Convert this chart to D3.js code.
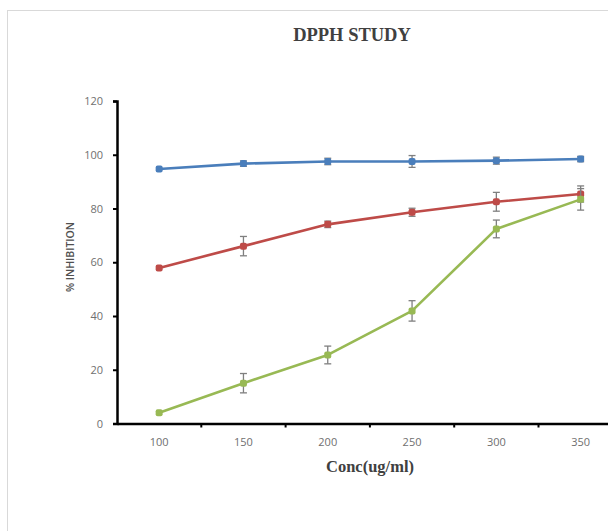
<!DOCTYPE html>
<html><head><meta charset="utf-8">
<script src="https://cdn.jsdelivr.net/npm/d3@7"></script>
<style>body{margin:0;background:#fff;}svg{display:block;}</style>
</head><body>
<svg id="c" width="608" height="531"></svg>
<script>
const categories = ["100","150","200","250","300","350"];
const yTicks = [0,20,40,60,80,100,120];
const seriesBlue = [94.7, 96.7, 97.5, 97.5, 97.8, 98.4];
const errBlue    = [0.8, 1.0, 1.2, 2.2, 1.3, 1.0];
const seriesRed  = [57.9, 66.0, 74.1, 78.6, 82.5, 85.4];
const errRed     = [0.8, 3.6, 1.2, 1.5, 3.5, 3.0];
const seriesGreen= [4.0, 15.0, 25.5, 41.9, 72.4, 83.4];
const errGreen   = [0.6, 3.6, 3.3, 3.8, 3.3, 4.0];
const colors = ["#4a7ebb","#be4b48","#98b954"];

const svg = d3.select("#c");
svg.append("rect").attr("x",7.5).attr("y",10.5).attr("width",640).attr("height",560)
  .attr("fill","#fff").attr("stroke","#d9d9d9").attr("stroke-width",1);

const x0 = 117, bw = 84.3;
const x = d3.scaleBand().domain(categories).range([x0, x0 + bw*categories.length]).padding(0);
const y = d3.scaleLinear().domain([0,120]).range([423.5, 101]);

svg.append("text").attr("x",352).attr("y",41).attr("text-anchor","middle")
  .attr("font-family","'Liberation Serif','Times New Roman',serif").attr("font-weight","bold")
  .attr("font-size",18.5).attr("fill","#404040").text("DPPH STUDY");

const yAxis = d3.axisLeft(y).tickValues(yTicks).tickSize(4).tickPadding(10);
const gy = svg.append("g").attr("transform",`translate(${x0},0)`).call(yAxis);
gy.select(".domain").attr("stroke","#000").attr("stroke-width",2.5);
gy.selectAll(".tick line").attr("stroke","#000").attr("stroke-width",2);
gy.selectAll(".tick text").attr("font-family","'Open Sans','DejaVu Sans',sans-serif")
  .attr("font-size",11).attr("fill","#6f6f6f");

const xAxis = d3.axisBottom(x).tickSize(0).tickPadding(15);
const gx = svg.append("g").attr("transform",`translate(0,${y(0)})`).call(xAxis);
gx.select(".domain").attr("stroke","#000").attr("stroke-width",2.5);
gx.selectAll(".tick text").attr("font-family","'Open Sans','DejaVu Sans',sans-serif")
  .attr("font-size",11).attr("fill","#6f6f6f");
gx.selectAll(".btick").data(categories.slice(1)).enter().append("line")
  .attr("x1",d=>x(d)).attr("x2",d=>x(d)).attr("y1",0).attr("y2",4)
  .attr("stroke","#000").attr("stroke-width",2);

svg.append("text").attr("x",370).attr("y",472).attr("text-anchor","middle")
  .attr("font-family","'Liberation Serif','Times New Roman',serif").attr("font-weight","bold")
  .attr("font-size",16.5).attr("fill","#404040").text("Conc(ug/ml)");
svg.append("text").attr("transform","translate(74,257) rotate(-90)").attr("text-anchor","middle")
  .attr("font-family","'Open Sans','DejaVu Sans',sans-serif").attr("font-weight",600)
  .attr("font-size",10.5).attr("fill","#505050").text("% INHIBITION");

const cx = d => x(d) + x.bandwidth()/2;
const series = [
  {v: seriesBlue, e: errBlue, c: colors[0]},
  {v: seriesRed, e: errRed, c: colors[1]},
  {v: seriesGreen, e: errGreen, c: colors[2]}
];
const line = d3.line().x((d,i)=>cx(categories[i])).y(d=>y(d));
series.forEach(s => {
  const g = svg.append("g");
  g.append("path").datum(s.v).attr("d",line).attr("fill","none")
    .attr("stroke",s.c).attr("stroke-width",2.6).attr("stroke-linejoin","round");
  s.v.forEach((v,i) => {
    const e = s.e[i]; if (e < 1) return;
    const xc = cx(categories[i]);
    g.append("line").attr("x1",xc).attr("x2",xc).attr("y1",y(v+e)).attr("y2",y(v-e))
      .attr("stroke","#7f7f7f").attr("stroke-width",1.3);
    [v+e, v-e].forEach(w => g.append("line").attr("x1",xc-3.5).attr("x2",xc+3.5)
      .attr("y1",y(w)).attr("y2",y(w)).attr("stroke","#7f7f7f").attr("stroke-width",1.3));
  });
  g.selectAll("rect.m").data(s.v).enter().append("rect")
    .attr("x",(d,i)=>cx(categories[i])-3.5).attr("y",d=>y(d)-3.5)
    .attr("width",7).attr("height",7).attr("rx",2).attr("fill",s.c);
});
</script>
</body></html>
